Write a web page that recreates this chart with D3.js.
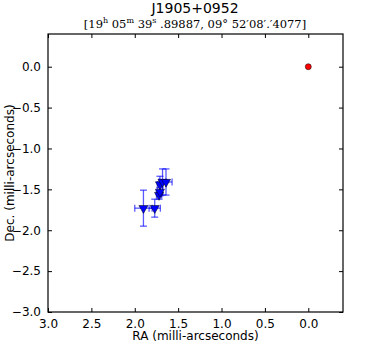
<!DOCTYPE html>
<html>
  <head>
    <meta charset="utf-8">
    <title>J1905+0952</title>
    <script src="https://d3js.org/d3.v7.min.js"></script>
    <style>
      body { margin: 0; background: #fff; }
      text { font-family: "DejaVu Sans", sans-serif; fill: #000; }
      .tick text { font-size: 12px; }
      .axisLabel { font-size: 12px; }
    </style>
  </head>
  <body>
    <svg id="chart" width="382" height="347"></svg>
    <script>
      // data (milli-arcseconds)
      raOffsets = [1.90, 1.77, 1.72, 1.71, 1.71, 1.68, 1.64];
      decOffsets = [-1.73, -1.73, -1.57, -1.53, -1.44, -1.41, -1.41];
      raErrors = [0.10, 0.065, 0.03, 0.03, 0.03, 0.04, 0.07];
      decErrors = [0.22, 0.11, 0.05, 0.05, 0.10, 0.16, 0.16];
      refRa = [0.0];
      refDec = [0.0];
      xTicks = [3.0, 2.5, 2.0, 1.5, 1.0, 0.5, 0.0];
      yTicks = [0.0, -0.5, -1.0, -1.5, -2.0, -2.5, -3.0];

      chart = d3.select("#chart");
      margin = { top: 34, right: 39, bottom: 35, left: 48 };
      width = 382;
      height = 347;

      x = d3.scaleLinear().domain([3.0, -0.4])
        .range([margin.left, width - margin.right]);
      y = d3.scaleLinear().domain([-3.0, 0.4])
        .range([height - margin.bottom, margin.top]);

      fmt = function(d) { return d3.format(".1f")(d).replace("-", "\u2212"); };

      // axes (ticks point inwards on every side)
      chart.append("g")
        .attr("transform", "translate(0," + y.range()[0] + ")")
        .call(d3.axisBottom(x).tickValues(xTicks).tickFormat(fmt).tickSizeInner(-4).tickSizeOuter(0).tickPadding(7));
      chart.append("g")
        .attr("transform", "translate(0," + y.range()[1] + ")")
        .call(d3.axisTop(x).tickValues(xTicks).tickFormat("").tickSizeInner(-4).tickSizeOuter(0));
      chart.append("g")
        .attr("transform", "translate(" + x.range()[0] + ",0)")
        .call(d3.axisLeft(y).tickValues(yTicks).tickFormat(fmt).tickSizeInner(-4).tickSizeOuter(0).tickPadding(7));
      chart.append("g")
        .attr("transform", "translate(" + x.range()[1] + ",0)")
        .call(d3.axisRight(y).tickValues(yTicks).tickFormat("").tickSizeInner(-4).tickSizeOuter(0));
      chart.selectAll(".domain").remove();
      chart.selectAll(".tick line").attr("stroke", "#000");

      // frame
      chart.append("rect")
        .attr("x", x.range()[0]).attr("y", y.range()[1])
        .attr("width", x.range()[1] - x.range()[0])
        .attr("height", y.range()[0] - y.range()[1])
        .attr("fill", "none").attr("stroke", "#000").attr("stroke-width", 1.2);

      // error bars
      points = raOffsets.map(function(d, i) {
        return { ra: d, dec: decOffsets[i], era: raErrors[i], edec: decErrors[i] };
      });
      errGroup = chart.append("g")
        .attr("stroke", "#0000ff").attr("stroke-opacity", 0.65).attr("stroke-width", 1.3);
      points.forEach(function(p) {
        var cx = x(p.ra), cy = y(p.dec);
        var x0 = x(p.ra + p.era), x1 = x(p.ra - p.era);
        var y0 = y(p.dec - p.edec), y1 = y(p.dec + p.edec);
        errGroup.append("line").attr("x1", x0).attr("x2", x1).attr("y1", cy).attr("y2", cy);
        errGroup.append("line").attr("x1", cx).attr("x2", cx).attr("y1", y0).attr("y2", y1);
        [x0, x1].forEach(function(v) {
          errGroup.append("line").attr("x1", v).attr("x2", v).attr("y1", cy - 3.5).attr("y2", cy + 3.5);
        });
        [y0, y1].forEach(function(v) {
          errGroup.append("line").attr("x1", cx - 3.5).attr("x2", cx + 3.5).attr("y1", v).attr("y2", v);
        });
      });

      // triangle markers
      tri = d3.symbol().type(d3.symbolTriangle).size(36);
      chart.append("g").selectAll("path")
        .data(points)
        .join("path")
          .attr("d", tri)
          .attr("transform", function(d) { return "translate(" + x(d.ra) + "," + y(d.dec) + ") rotate(180)"; })
          .attr("fill", "#0000ff").attr("stroke", "#000").attr("stroke-width", 0.5);

      // reference position
      chart.append("g").selectAll("circle")
        .data(refRa)
        .join("circle")
          .attr("cx", function(d) { return x(d); })
          .attr("cy", function(d, i) { return y(refDec[i]); })
          .attr("r", 3)
          .attr("fill", "#ff0000").attr("stroke", "#000").attr("stroke-width", 0.5);

      // titles
      chart.append("text").attr("x", 195).attr("y", 13)
        .attr("text-anchor", "middle").style("font-size", "14px").text("J1905+0952");
      sub = chart.append("text").attr("x", 195).attr("y", 28)
        .attr("text-anchor", "middle")
        .style("font-family", "'DejaVu Serif', serif").style("font-size", "11.5px");
      sub.append("tspan").text("[19");
      sub.append("tspan").attr("dy", -5).style("font-size", "8px").text("h");
      sub.append("tspan").attr("dy", 5).text(" 05");
      sub.append("tspan").attr("dy", -5).style("font-size", "8px").text("m");
      sub.append("tspan").attr("dy", 5).text(" 39");
      sub.append("tspan").attr("dy", -5).style("font-size", "8px").text("s");
      sub.append("tspan").attr("dy", 5).text(" .89887, 09\u00b0 52\u203208\u2032.\u20324077]");

      // axis labels
      chart.append("text").attr("class", "axisLabel")
        .attr("x", (x.range()[0] + x.range()[1]) / 2).attr("y", 340)
        .attr("text-anchor", "middle").text("RA (milli-arcseconds)");
      chart.append("text").attr("class", "axisLabel")
        .attr("transform", "translate(14," + ((y.range()[0] + y.range()[1]) / 2) + ") rotate(-90)")
        .attr("text-anchor", "middle").text("Dec. (milli-arcseconds)");
    </script>
  </body>
</html>
